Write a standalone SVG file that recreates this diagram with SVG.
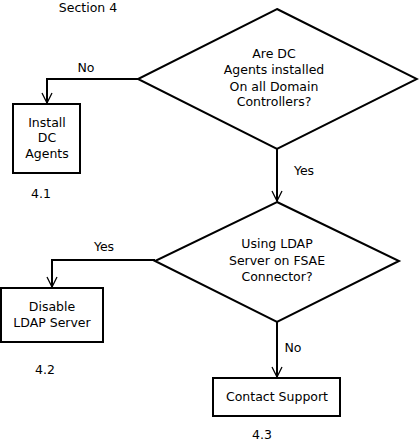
<svg xmlns="http://www.w3.org/2000/svg" width="419" height="446" viewBox="0 0 419 446">
<style>
.s{fill:#fff;stroke:#000;stroke-width:2}
.c{fill:none;stroke:#000;stroke-width:2}
text{font-family:"DejaVu Sans",sans-serif;font-size:12.5px;fill:#000;text-anchor:middle}
</style>
<defs>
<marker id="a" viewBox="0 0 12 12" refX="11" refY="6" markerWidth="12" markerHeight="12" markerUnits="userSpaceOnUse" orient="auto">
<path d="M1,1 L11,6 L1,11" fill="none" stroke="#000" stroke-width="1.3"/>
</marker>
</defs>
<rect width="419" height="446" fill="#fff"/>
<text x="88" y="12">Section 4</text>
<g id="connectors">
<path class="c" d="M138,79 H47 V103" marker-end="url(#a)"/>
<path class="c" d="M277,149 V201" marker-end="url(#a)"/>
<path class="c" d="M155,260 H52 V287" marker-end="url(#a)"/>
<path class="c" d="M277,322 V377" marker-end="url(#a)"/>
<text x="86" y="72">No</text>
<text x="304" y="175">Yes</text>
<text x="104" y="251">Yes</text>
<text x="293" y="352">No</text>
</g>
<g id="q1">
<polygon class="s" points="277,9 417,79 277,149 138,79"/>
<text x="274" y="58">Are DC</text>
<text x="274" y="74">Agents installed</text>
<text x="274" y="91">On all Domain</text>
<text x="274" y="106">Controllers?</text>
</g>
<g id="n41">
<rect class="s" x="13" y="104" width="67" height="69"/>
<text x="47" y="127">Install</text>
<text x="47" y="142">DC</text>
<text x="47" y="158">Agents</text>
<text x="41" y="198">4.1</text>
</g>
<g id="q2">
<polygon class="s" points="277,202 399,261 277,322 155,261"/>
<text x="277" y="248">Using LDAP</text>
<text x="277" y="265">Server on FSAE</text>
<text x="277" y="281">Connector?</text>
</g>
<g id="n42">
<rect class="s" x="1" y="288" width="102" height="54"/>
<text x="52" y="311">Disable</text>
<text x="52" y="327">LDAP Server</text>
<text x="45" y="374">4.2</text>
</g>
<g id="n43">
<rect class="s" x="213" y="378" width="127" height="38"/>
<text x="277" y="401">Contact Support</text>
<text x="262" y="439">4.3</text>
</g>
</svg>
